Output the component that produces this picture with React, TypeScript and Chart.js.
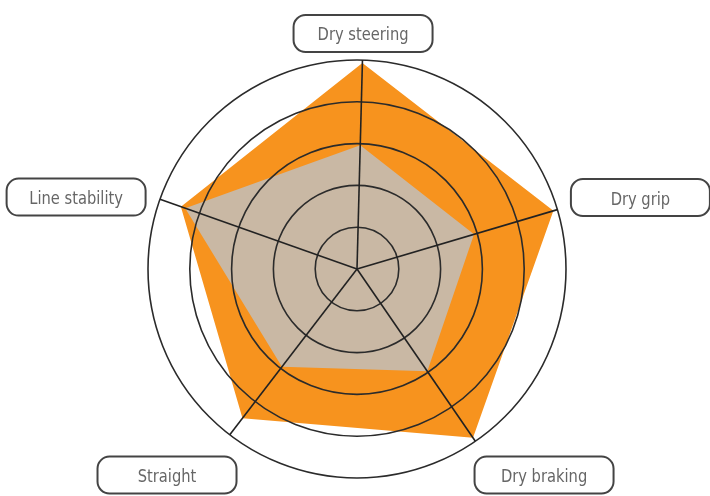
import React, { useEffect, useRef } from "react";
import { Chart, registerables } from "chart.js";

Chart.register(...registerables);

const categories = ["Dry steering", "Dry grip", "Dry braking", "Straight", "Line stability"];
const outerSeries = [4.93, 4.9, 4.9, 4.5, 4.47];
const innerSeries = [2.96, 2.92, 2.97, 2.95, 4.36];
const scaleMin = 0;
const scaleMax = 5;
const scaleStep = 1;

// label box centres, in units of the scale radius, relative to the scale centre
const labelOffsets = [
  [0.029, -1.127],
  [1.356, -0.342],
  [0.895, 0.986],
  [-0.909, 0.986],
  [-1.344, -0.344],
];

const labelBoxPlugin = {
  id: "labelBoxes",
  afterDraw(chart: any) {
    const r = chart.scales.r;
    const ctx = chart.ctx;
    const R = r.drawingArea;
    const cx = r.xCenter;
    const cy = r.yCenter;
    const w = 139;
    const h = 37;
    const rad = 12;
    ctx.save();
    ctx.font = "18px 'Liberation Sans Narrow', 'DejaVu Sans Condensed', 'Liberation Sans', sans-serif";
    const k = 91 / ctx.measureText("Dry steering").width;
    categories.forEach((label, i) => {
      const bx = cx + labelOffsets[i][0] * R;
      const by = cy + labelOffsets[i][1] * R;
      ctx.beginPath();
      ctx.roundRect(bx - w / 2, by - h / 2, w, h, rad);
      ctx.fillStyle = "#ffffff";
      ctx.fill();
      ctx.lineWidth = 2;
      ctx.strokeStyle = "#444444";
      ctx.stroke();
      ctx.save();
      ctx.translate(bx, by + 7);
      ctx.scale(k, 1);
      ctx.fillStyle = "#666666";
      ctx.textAlign = "center";
      ctx.textBaseline = "alphabetic";
      ctx.fillText(label, 0, 0);
      ctx.restore();
    });
    ctx.restore();
  },
};

export default function App() {
  const ref = useRef<HTMLCanvasElement>(null);
  useEffect(() => {
    if (!ref.current) return;
    const chart = new Chart(ref.current, {
      type: "radar",
      data: {
        labels: categories,
        datasets: [
          {
            label: "Inner",
            data: innerSeries,
            backgroundColor: "#C9B8A4",
            borderWidth: 0,
            pointRadius: 0,
            fill: true,
          },
          {
            label: "Outer",
            data: outerSeries,
            backgroundColor: "#F7931E",
            borderWidth: 0,
            pointRadius: 0,
            fill: true,
          },
        ],
      },
      options: {
        animation: false,
        responsive: true,
        maintainAspectRatio: false,
        layout: { padding: { left: 148, right: 143, top: 60, bottom: 18 } },
        plugins: { legend: { display: false }, tooltip: { enabled: false } },
        scales: {
          r: {
            min: scaleMin,
            max: scaleMax,
            startAngle: 1.5,
            ticks: { stepSize: scaleStep, display: false },
            pointLabels: { display: false },
            grid: { circular: true, color: "#2b2b2b", lineWidth: 1.6, z: 1 },
            angleLines: { color: "#222222", lineWidth: 1.6 },
          },
        },
      },
      plugins: [labelBoxPlugin],
    });
    return () => chart.destroy();
  }, []);
  return (
    <div style={{ position: "fixed", left: 0, top: 0, width: 710, height: 496, background: "#fff" }}>
      <canvas ref={ref} />
    </div>
  );
}
